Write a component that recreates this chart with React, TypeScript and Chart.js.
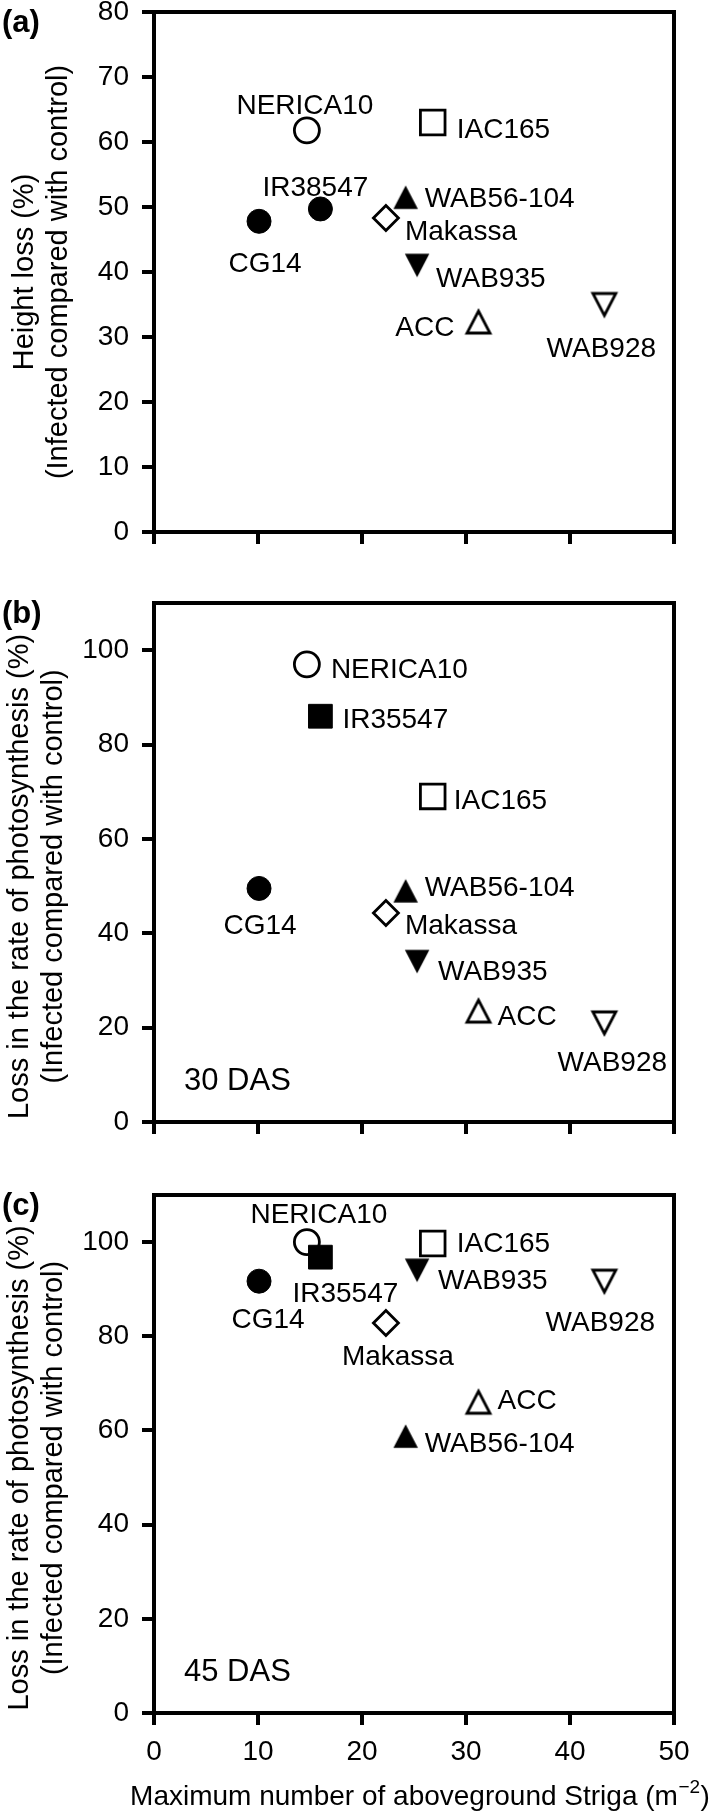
import React, { useEffect, useRef } from "react";
import { Chart, registerables } from "chart.js";

Chart.register(...registerables);

// ---------- data ----------
const cultivarKeys = ["CG14", "NERICA10", "IR", "Makassa", "WAB56-104", "WAB935", "IAC165", "ACC", "WAB928"];
const namesA = ["CG14", "NERICA10", "IR38547", "Makassa", "WAB56-104", "WAB935", "IAC165", "ACC", "WAB928"];
const namesBC = ["CG14", "NERICA10", "IR35547", "Makassa", "WAB56-104", "WAB935", "IAC165", "ACC", "WAB928"];
// Maximum number of aboveground Striga (m-2)
const strigaMax = [10.1, 14.7, 16.0, 22.3, 24.2, 25.3, 26.8, 31.2, 43.3];
// (a) Height loss (%)
const heightLoss = [47.8, 61.8, 49.7, 48.3, 51.5, 41.0, 63.0, 32.3, 35.0];
// (b) Loss in rate of photosynthesis, 30 DAS (%)
const photo30 = [49.5, 97.0, 86.0, 44.3, 49.0, 34.0, 69.0, 23.5, 21.0];
// (c) Loss in rate of photosynthesis, 45 DAS (%)
const photo45 = [91.7, 100.0, 96.8, 82.8, 58.8, 94.0, 99.7, 66.0, 91.7];

const xTicksMax = 50;
const xTicksStep = 10;
const xTitleMain = "Maximum number of aboveground Striga (m";
const xTitleSup = "\u22122";
const xTitleEnd = ")";
const yTitleA = ["Height loss (%)", "(Infected compared with control)"];
const yTitleBC = ["Loss in the rate of photosynthesis (%)", "(Infected compared with control)"];

// ---------- label placement (pixel offsets from the point, align) ----------
type Off = [number, number, CanvasTextAlign];
const offA: Off[] = [
  [6, 43, "center"], [-2, -24, "center"], [-5, -21, "center"], [19, 14, "left"],
  [19, 2, "left"], [19, 14, "left"], [24, 8, "left"], [-24, 6, "right"], [-3, 45, "center"],
];
const offB: Off[] = [
  [1, 38, "center"], [24, 6, "left"], [22, 4, "left"], [19, 13, "left"],
  [19, -3, "left"], [21, 11, "left"], [21, 5, "left"], [19, 6, "left"], [8, 40, "center"],
];
const offC: Off[] = [
  [9, 39, "center"], [12, -27, "center"], [25, 37, "center"], [12, 34, "center"],
  [19, 8, "left"], [21, 11, "left"], [24, 1, "left"], [19, -1, "left"], [-4, 42, "center"],
];

const FONT = "'Liberation Sans', Arial, Helvetica, sans-serif";

interface Panel {
  key: string;
  canvasTop: number;
  canvasH: number;
  padTop: number;
  xAxisH: number;
  yMax: number;
  yStep: number;
  values: number[];
  names: string[];
  irSquare: boolean;
  titleLines: string[];
  titleX: [number, number];
  titleShift: number;
  letter: string;
  das: string | null;
  showX: boolean;
  offsets: Off[];
}

const panels: Panel[] = [
  {
    key: "a", canvasTop: -30, canvasH: 600, padTop: 42, xAxisH: 38, yMax: 80, yStep: 10,
    values: heightLoss, names: namesA, irSquare: false,
    titleLines: yTitleA, titleX: [25, 59], titleShift: 0,
    letter: "(a)", das: null, showX: false, offsets: offA,
  },
  {
    key: "b", canvasTop: 563, canvasH: 597, padTop: 40, xAxisH: 38, yMax: 110, yStep: 20,
    values: photo30, names: namesBC, irSquare: true,
    titleLines: yTitleBC, titleX: [20, 54], titleShift: 14,
    letter: "(b)", das: "30 DAS", showX: false, offsets: offB,
  },
  {
    key: "c", canvasTop: 1155, canvasH: 657, padTop: 40, xAxisH: 99, yMax: 110, yStep: 20,
    values: photo45, names: namesBC, irSquare: true,
    titleLines: yTitleBC, titleX: [20, 54], titleShift: 14,
    letter: "(c)", das: "45 DAS", showX: true, offsets: offC,
  },
];

function makeTriangle(up: boolean, filled: boolean): HTMLCanvasElement {
  const c = document.createElement("canvas");
  c.width = 34;
  c.height = 34;
  const g = c.getContext("2d")!;
  const cx = 17, cy = 17;
  const w = filled ? 24.5 : 23;
  const h = filled ? 23.5 : 22;
  const s = up ? 1 : -1;
  g.beginPath();
  g.moveTo(cx, cy - s * h / 2);
  g.lineTo(cx + w / 2, cy + s * h / 2);
  g.lineTo(cx - w / 2, cy + s * h / 2);
  g.closePath();
  if (filled) {
    g.fillStyle = "#000";
    g.fill();
  } else {
    g.fillStyle = "#fff";
    g.fill();
    g.lineWidth = 2.8;
    g.lineJoin = "miter";
    g.strokeStyle = "#000";
    g.stroke();
  }
  return c;
}

function buildConfig(p: Panel): any {
  const triUpFilled = makeTriangle(true, true);
  const triDownFilled = makeTriangle(false, true);
  const triUpOpen = makeTriangle(true, false);
  const triDownOpen = makeTriangle(false, false);

  const styleFor = (k: string): { style: any; r: number; fill: string; bw: number } => {
    switch (k) {
      case "CG14": return { style: "circle", r: 12, fill: "#000", bw: 1 };
      case "NERICA10": return { style: "circle", r: 12.5, fill: "#fff", bw: 2.8 };
      case "IR": return p.irSquare
        ? { style: "rect", r: 16.8, fill: "#000", bw: 1 }
        : { style: "circle", r: 12, fill: "#000", bw: 1 };
      case "Makassa": return { style: "rectRot", r: 12.5, fill: "#fff", bw: 2.8 };
      case "WAB56-104": return { style: triUpFilled, r: 12, fill: "#000", bw: 0 };
      case "WAB935": return { style: triDownFilled, r: 12, fill: "#000", bw: 0 };
      case "IAC165": return { style: "rect", r: 17.4, fill: "#fff", bw: 2.8 };
      case "ACC": return { style: triUpOpen, r: 12, fill: "#fff", bw: 0 };
      default: return { style: triDownOpen, r: 12, fill: "#fff", bw: 0 };
    }
  };

  const datasets = cultivarKeys.map((k, i) => {
    const st = styleFor(k);
    return {
      label: p.names[i],
      data: [{ x: strigaMax[i], y: p.values[i] }],
      pointStyle: st.style,
      pointRadius: st.r,
      pointHoverRadius: st.r,
      pointBackgroundColor: st.fill,
      pointBorderColor: "#000",
      pointBorderWidth: st.bw,
      showLine: false,
      order: k === "IR" ? 0 : 1,
    };
  });

  const framePlugin = {
    id: "frame" + p.key,
    beforeDatasetsDraw(chart: any) {
      const { ctx, chartArea } = chart;
      ctx.save();
      ctx.strokeStyle = "#000";
      ctx.lineWidth = 4;
      ctx.strokeRect(chartArea.left, chartArea.top, chartArea.right - chartArea.left, chartArea.bottom - chartArea.top);
      ctx.restore();
    },
  };

  const labelPlugin = {
    id: "labels" + p.key,
    afterDatasetsDraw(chart: any) {
      const { ctx, chartArea } = chart;
      ctx.save();
      ctx.fillStyle = "#000";
      ctx.textBaseline = "middle";
      ctx.font = `28px ${FONT}`;
      chart.data.datasets.forEach((ds: any, i: number) => {
        const el = chart.getDatasetMeta(i).data[0];
        if (!el) return;
        const [dx, dy, align] = p.offsets[i];
        ctx.textAlign = align;
        ctx.fillText(ds.label, el.x + dx, el.y + dy);
      });

      // y-axis title (two rotated lines)
      ctx.font = `29px ${FONT}`;
      ctx.textAlign = "center";
      const cy = (chartArea.top + chartArea.bottom) / 2 + p.titleShift;
      p.titleLines.forEach((line, i) => {
        ctx.save();
        ctx.translate(p.titleX[i], cy);
        ctx.rotate(-Math.PI / 2);
        ctx.fillText(line, 0, 0);
        ctx.restore();
      });

      ctx.textAlign = "left";
      ctx.font = `bold 31px ${FONT}`;
      ctx.fillText(p.letter, 2, chartArea.top + 11);
      if (p.das) {
        ctx.font = `31px ${FONT}`;
        ctx.fillText(p.das, chartArea.left + 30, chartArea.bottom - 41);
      }
      if (p.showX) {
        // x-axis title with a real superscript
        const mainFont = `28px ${FONT}`;
        const supFont = `19px ${FONT}`;
        ctx.font = mainFont;
        const w1 = ctx.measureText(xTitleMain).width;
        const w3 = ctx.measureText(xTitleEnd).width;
        ctx.font = supFont;
        const w2 = ctx.measureText(xTitleSup).width;
        const total = w1 + w2 + w3 + 1;
        const cx = (chartArea.left + chartArea.right) / 2 + 6;
        const y = chart.height - 15;
        let x = cx - total / 2;
        ctx.textAlign = "left";
        ctx.font = mainFont;
        ctx.fillText(xTitleMain, x, y);
        x += w1;
        ctx.font = supFont;
        ctx.fillText(xTitleSup, x + 0.5, y - 9);
        x += w2 + 1;
        ctx.font = mainFont;
        ctx.fillText(xTitleEnd, x, y);
      }
      ctx.restore();
    },
  };

  const gridOpts = { drawOnChartArea: false, drawTicks: true, tickLength: 12, color: "#000", lineWidth: 4 };
  const borderOpts = { display: true, color: "#000", width: 4 };

  return {
    type: "scatter",
    data: { datasets },
    options: {
      animation: false,
      responsive: false,
      devicePixelRatio: 1,
      events: [],
      layout: { padding: { left: 0, right: 35, top: p.padTop, bottom: 0 } },
      plugins: { legend: { display: false }, tooltip: { enabled: false } },
      scales: {
        x: {
          type: "linear",
          position: "bottom",
          min: 0,
          max: xTicksMax,
          ticks: { display: p.showX, stepSize: xTicksStep, padding: 10, color: "#000", font: { family: FONT, size: 28 } },
          grid: gridOpts,
          border: borderOpts,
          afterFit: (s: any) => { s.height = p.xAxisH; },
        },
        y: {
          type: "linear",
          position: "left",
          min: 0,
          max: p.yMax,
          ticks: { stepSize: p.yStep, includeBounds: false, padding: 13, color: "#000", font: { family: FONT, size: 28 } },
          grid: gridOpts,
          border: borderOpts,
          afterFit: (s: any) => { s.width = 154; },
        },
      },
    },
    plugins: [framePlugin, labelPlugin],
  };
}

export default function App() {
  const r0 = useRef<HTMLCanvasElement>(null);
  const r1 = useRef<HTMLCanvasElement>(null);
  const r2 = useRef<HTMLCanvasElement>(null);
  const refs = [r0, r1, r2];

  useEffect(() => {
    const charts = panels.map((p, i) => new Chart(refs[i].current as HTMLCanvasElement, buildConfig(p)));
    return () => charts.forEach((c) => c.destroy());
  }, []);

  return (
    <div style={{ position: "absolute", left: 0, top: 0, width: 709, height: 1812, overflow: "hidden", background: "#fff" }}>
      {panels.map((p, i) => (
        <canvas
          key={p.key}
          ref={refs[i]}
          width={709}
          height={p.canvasH}
          style={{ position: "absolute", left: 0, top: p.canvasTop, width: 709, height: p.canvasH }}
        />
      ))}
    </div>
  );
}
